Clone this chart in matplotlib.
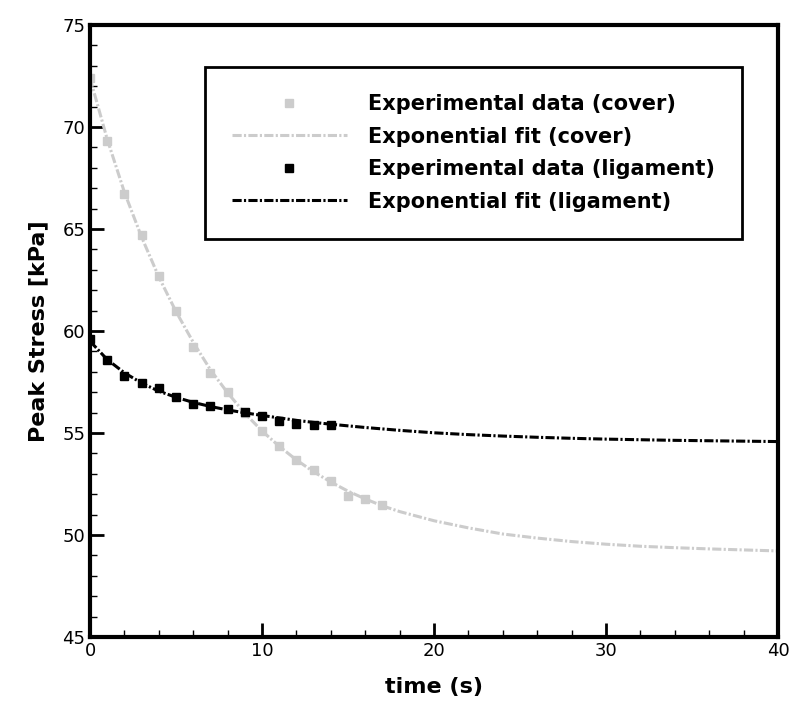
import matplotlib
matplotlib.use('Agg')
import matplotlib.pyplot as plt
from matplotlib.ticker import MultipleLocator

# experimental data
t_cover = [0, 1, 2, 3, 4, 5, 6, 7, 8, 9, 10, 11, 12, 13, 14, 15, 16, 17]
p_cover = [72.4, 69.3, 66.7, 64.7, 62.7, 61.0, 59.2, 57.95, 57.0, 56.0,
           55.1, 54.35, 53.7, 53.2, 52.65, 51.9, 51.75, 51.45]
t_lig = [0, 1, 2, 3, 4, 5, 6, 7, 8, 9, 10, 11, 12, 13, 14]
p_lig = [59.6, 58.6, 57.8, 57.45, 57.2, 56.75, 56.4, 56.3, 56.2, 56.05,
         55.85, 55.6, 55.45, 55.4, 55.4]

# fit curves
t_fit = [0, 1, 2, 3, 4, 5, 6, 7, 8, 9, 10, 11, 12, 13, 14, 15, 16, 17, 18,
         20, 22, 24, 26, 28, 30, 32, 34, 36, 38, 40]
fit_cover = [72.4, 69.4, 66.8, 64.6, 62.65, 60.95, 59.45, 58.1, 56.97, 55.97,
             55.1, 54.35, 53.68, 53.1, 52.6, 52.15, 51.77, 51.43, 51.15,
             50.7, 50.35, 50.05, 49.85, 49.68, 49.55, 49.45, 49.38, 49.32,
             49.27, 49.22]
fit_lig = [59.5, 58.6, 57.95, 57.45, 57.05, 56.75, 56.5, 56.3, 56.13, 55.99,
           55.86, 55.74, 55.62, 55.52, 55.43, 55.35, 55.27, 55.2, 55.13,
           55.01, 54.92, 54.85, 54.79, 54.74, 54.7, 54.67, 54.64, 54.62,
           54.6, 54.58]

gray = '#cccccc'
dashdot = (0, (3.0, 0.75, 0.7, 0.75))

fig = plt.figure(figsize=(8, 7.11), dpi=100)
ax = fig.add_axes([0.1125, 0.104, 0.86, 0.861])

ax.plot(t_cover, p_cover, 's', color=gray, markersize=6, label='Experimental data (cover)')
ax.plot(t_fit, fit_cover, linestyle=dashdot, color=gray, linewidth=2.2, label='Exponential fit (cover)')
ax.plot(t_lig, p_lig, 's', color='black', markersize=6, label='Experimental data (ligament)')
ax.plot(t_fit, fit_lig, linestyle=dashdot, color='black', linewidth=2.2, label='Exponential fit (ligament)')

ax.set_xlim(0, 40)
ax.set_ylim(45, 75)
ax.xaxis.set_major_locator(MultipleLocator(10))
ax.xaxis.set_minor_locator(MultipleLocator(2))
ax.yaxis.set_major_locator(MultipleLocator(5))
ax.yaxis.set_minor_locator(MultipleLocator(1))
ax.tick_params(which='both', direction='in', top=False, right=False, labelsize=13)
ax.tick_params(which='major', length=10, width=2)
ax.tick_params(which='minor', length=5, width=1)
for s in ax.spines.values():
    s.set_linewidth(3)

ax.set_xlabel('time (s)', fontsize=16, fontweight='bold', labelpad=12)
ax.set_ylabel('Peak Stress [kPa]', fontsize=16, fontweight='bold', labelpad=10)

leg = ax.legend(loc='upper left', bbox_to_anchor=(0.167, 0.931), borderaxespad=0,
                fancybox=False, frameon=True, edgecolor='black', numpoints=1,
                handlelength=5.5, handletextpad=1.05, labelspacing=0.6,
                borderpad=1.3, prop={'weight': 'bold', 'size': 15})
leg.get_frame().set_linewidth(2)
leg.get_frame().set_alpha(1)

fig.savefig('out.png', dpi=100)
